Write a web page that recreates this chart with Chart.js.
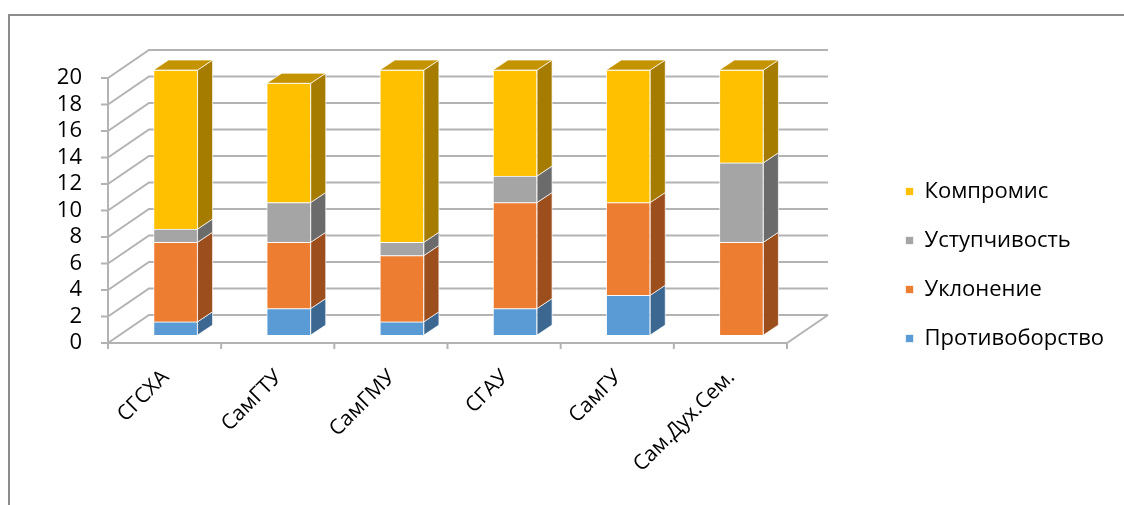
<!DOCTYPE html>
<html>
<head>
<meta charset="utf-8">
<script src="https://cdn.jsdelivr.net/npm/chart.js@4/dist/chart.umd.min.js"></script>
<style>
  html, body { margin: 0; padding: 0; background: #fff; overflow: hidden; }
  #frame { position: absolute; left: 8px; top: 14px; width: 1200px; height: 600px; border: 2px solid #8c8c8c; }
  #wrap { position: absolute; left: 0; top: 0; width: 1124px; height: 505px; }
</style>
</head>
<body>
<div id="frame"></div>
<div id="wrap"><canvas id="chart" width="1124" height="505"></canvas></div>
<script>
// данные
const categories = ['СГСХА', 'СамГТУ', 'СамГМУ', 'СГАУ', 'СамГУ', 'Сам.Дух.Сем.'];
const protivoborstvo = [1, 2, 1, 2, 3, 0];
const uklonenie = [6, 5, 5, 8, 7, 7];
const ustupchivost = [1, 3, 1, 2, 0, 6];
const kompromis = [12, 9, 13, 8, 10, 7];
const yTickValues = [0, 2, 4, 6, 8, 10, 12, 14, 16, 18, 20];

const FONT = "'Open Sans', 'DejaVu Sans', sans-serif";

// рамка пола / передней стенки
const PLOT_RIGHT = 787;
const PLOT_TOP = 25;                // верх шкалы (значение 24)
const PLOT_BOTTOM = 343;            // ноль
// псевдо-3D
const WALL_DX = 41, WALL_DY = 28;   // глубина стенок
const BAR_DX = 11, BAR_DY = 8;      // передняя грань столбика
const SIDE_DX = 15, SIDE_DY = 10;   // толщина столбика

const sideColors = ['#3b6791', '#9c4e1d', '#6b6b6b', '#a67c00'];
const topColors = ['#4a80b0', '#c0622a', '#888888', '#c49300'];

const walls3d = {
  id: 'walls3d',
  afterLayout(chart) {
    // пол короче области графика: справа место под легенду
    const x = chart.scales.x, y = chart.scales.y;
    x.right = PLOT_RIGHT;
    x.width = x.right - x.left;
    x.top = PLOT_BOTTOM;
    x.configure();
    y.top = PLOT_TOP;
    y.bottom = PLOT_BOTTOM;
    y.height = y.bottom - y.top;
    y.configure();
  },
  beforeDatasetsDraw(chart) {
    const ctx = chart.ctx;
    const x = chart.scales.x, y = chart.scales.y;
    const left = x.left, right = x.right;
    ctx.save();
    ctx.strokeStyle = '#b3b3b3';
    ctx.lineWidth = 2;
    yTickValues.forEach(v => {
      const py = y.getPixelForValue(v);
      ctx.beginPath();
      ctx.moveTo(left, py);
      ctx.lineTo(left + WALL_DX, py - WALL_DY);
      ctx.lineTo(right + WALL_DX, py - WALL_DY);
      ctx.stroke();
      ctx.beginPath();
      ctx.moveTo(left - 7, py);
      ctx.lineTo(left, py);
      ctx.stroke();
    });
    const y0 = y.getPixelForValue(0), y20 = y.getPixelForValue(20);
    ctx.beginPath();
    ctx.moveTo(left, y20);
    ctx.lineTo(left, y0 + 6);
    ctx.stroke();
    // пол
    ctx.beginPath();
    ctx.moveTo(left, y0);
    ctx.lineTo(right, y0);
    ctx.lineTo(right + WALL_DX, y0 - WALL_DY);
    ctx.stroke();
    for (let i = 0; i <= categories.length; i++) {
      const px = left + (right - left) * i / categories.length;
      ctx.beginPath();
      ctx.moveTo(px, y0);
      ctx.lineTo(px, y0 + 6);
      ctx.stroke();
    }
    ctx.restore();
    ctx.save();
    ctx.translate(BAR_DX, -BAR_DY);
  },
  afterDatasetsDraw(chart) {
    const ctx = chart.ctx;
    const n = chart.data.datasets.length;
    chart.data.datasets.forEach((ds, di) => {
      const meta = chart.getDatasetMeta(di);
      meta.data.forEach((bar, i) => {
        if (!ds.data[i]) return;
        const p = bar.getProps(['x', 'y', 'base', 'width'], true);
        const r = p.x + p.width / 2, l = p.x - p.width / 2;
        ctx.strokeStyle = 'rgba(255,255,255,0.7)';
        ctx.lineWidth = 1;
        ctx.fillStyle = sideColors[di];
        ctx.beginPath();
        ctx.moveTo(r, p.base);
        ctx.lineTo(r, p.y);
        ctx.lineTo(r + SIDE_DX, p.y - SIDE_DY);
        ctx.lineTo(r + SIDE_DX, p.base - SIDE_DY);
        ctx.closePath();
        ctx.fill();
        ctx.stroke();
        if (di === n - 1) {
          ctx.fillStyle = topColors[di];
          ctx.beginPath();
          ctx.moveTo(l, p.y);
          ctx.lineTo(r, p.y);
          ctx.lineTo(r + SIDE_DX, p.y - SIDE_DY);
          ctx.lineTo(l + SIDE_DX, p.y - SIDE_DY);
          ctx.closePath();
          ctx.fill();
          ctx.stroke();
        }
      });
    });
    ctx.restore();
  }
};

new Chart(document.getElementById('chart'), {
  type: 'bar',
  data: {
    labels: categories,
    datasets: [
      { label: 'Противоборство', data: protivoborstvo, backgroundColor: '#5b9bd5' },
      { label: 'Уклонение', data: uklonenie, backgroundColor: '#ed7d31' },
      { label: 'Уступчивость', data: ustupchivost, backgroundColor: '#a5a5a5' },
      { label: 'Компромис', data: kompromis, backgroundColor: '#ffc000' }
    ]
  },
  options: {
    responsive: false,
    animation: false,
    layout: { padding: { top: 25, left: 0, right: 10, bottom: 0 } },
    datasets: {
      bar: {
        barThickness: 44,
        borderColor: 'rgba(255,255,255,0.7)',
        borderWidth: 1,
        clip: false
      }
    },
    scales: {
      x: {
        stacked: true,
        grid: { display: false, drawTicks: false },
        border: { display: false },
        ticks: {
          color: '#000',
          font: { family: FONT, size: 21 },
          minRotation: 45,
          maxRotation: 45,
          autoSkip: false,
          padding: 22,
          labelOffset: 1
        },
        afterFit(s) { s.height = 162; }
      },
      y: {
        stacked: true,
        min: 0,
        max: 24,
        grid: { display: false, drawTicks: false },
        border: { display: false },
        ticks: {
          color: '#000',
          font: { family: FONT, size: 22 },
          padding: 26
        },
        afterBuildTicks(s) { s.ticks = yTickValues.map(v => ({ value: v })); },
        afterFit(s) { s.width = 108; }
      }
    },
    plugins: {
      legend: {
        position: 'right',
        reverse: true,
        labels: {
          color: '#000',
          font: { family: FONT, size: 22 },
          boxWidth: 8,
          boxHeight: 8,
          padding: 27
        }
      },
      tooltip: { enabled: false }
    }
  },
  plugins: [walls3d]
});
</script>
</body>
</html>
